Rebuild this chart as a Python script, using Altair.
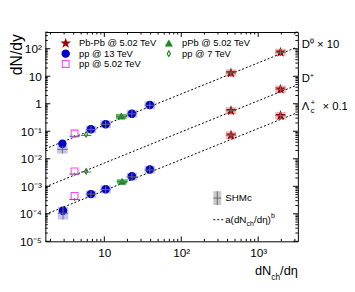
import altair as alt
import pandas as pd

W, H = 257, 213
FONT = "Liberation Sans"

# ---------------- data ----------------
systems = ["Pb-Pb @ 5.02 TeV", "pp @ 13 TeV", "pp @ 5.02 TeV", "pPb @ 5.02 TeV", "pp @ 7 TeV"]

# D0 (x10)
d0_pbpb_x = [443, 1950]; d0_pbpb_y = [13.1, 74.0]
d0_pbpb_shm = [13.1, 74.0]; d0_pbpb_lo = [9.6, 54.0]; d0_pbpb_hi = [17.9, 101.0]
d0_pp13_x = [2.85, 6.7, 10.4, 22.8, 39.0]; d0_pp13_y = [0.035, 0.118, 0.18, 0.43, 0.90]
d0_pp13_shm = [0.022, 0.115, 0.18, 0.43, 0.88]
d0_pp13_lo = [0.0155, 0.085, 0.13, 0.31, 0.64]; d0_pp13_hi = [0.029, 0.16, 0.25, 0.60, 1.22]
d0_pp5_x = [4.1]; d0_pp5_y = [0.083]; d0_pp5_shm = [0.066]; d0_pp5_lo = [0.060]; d0_pp5_hi = [0.073]
d0_ppb_x = [16.6]; d0_ppb_y = [0.35]; d0_ppb_shm = [0.34]; d0_ppb_lo = [0.28]; d0_ppb_hi = [0.43]
d0_pp7_x = [5.8]; d0_pp7_y = [0.076]; d0_pp7_shm = [0.070]; d0_pp7_lo = [0.064]; d0_pp7_hi = [0.077]

# D+
dp_pbpb_x = [443, 1950]; dp_pbpb_y = [0.56, 3.35]
dp_pbpb_shm = [0.56, 3.35]; dp_pbpb_lo = [0.41, 2.45]; dp_pbpb_hi = [0.76, 4.6]
dp_pp5_x = [4.1]; dp_pp5_y = [0.0035]; dp_pp5_shm = [0.0028]; dp_pp5_lo = [0.0025]; dp_pp5_hi = [0.0031]
dp_pp7_x = [5.8]; dp_pp7_y = [0.0035]; dp_pp7_shm = [0.0033]; dp_pp7_lo = [0.0030]; dp_pp7_hi = [0.0037]

# Lambda_c (x0.1)
lc_pbpb_x = [443, 1950]; lc_pbpb_y = [0.072, 0.37]
lc_pbpb_shm = [0.072, 0.37]; lc_pbpb_lo = [0.053, 0.27]; lc_pbpb_hi = [0.098, 0.50]
lc_pp13_x = [2.9, 6.7, 10.4, 22.8, 39.0]; lc_pp13_y = [1.3e-4, 5.2e-4, 7.8e-4, 2.3e-3, 4.1e-3]
lc_pp13_shm = [1.05e-4, 5.2e-4, 7.6e-4, 2.2e-3, 3.9e-3]
lc_pp13_lo = [6.2e-5, 3.8e-4, 5.5e-4, 1.6e-3, 2.9e-3]; lc_pp13_hi = [1.8e-4, 7.0e-4, 1.08e-3, 3.1e-3, 5.6e-3]
lc_pp5_x = [4.1]; lc_pp5_y = [4.5e-4]; lc_pp5_shm = [3.3e-4]; lc_pp5_lo = [2.9e-4]; lc_pp5_hi = [3.7e-4]
lc_ppb_x = [17.0]; lc_ppb_y = [1.5e-3]; lc_ppb_shm = [1.5e-3]; lc_ppb_lo = [1.25e-3]; lc_ppb_hi = [1.8e-3]

# power-law fit lines a(dNch/deta)^b : end points
fit_x = [1.71, 3150]
d0_fit_y = [0.023, 112.0]
dp_fit_y = [9.5e-4, 4.7]
lc_fit_y = [9.5e-5, 0.46]

# axis ticks
x_major = [10, 100, 1000]
x_major_labels = ["10", "10²", "10³"]
y_major = [1e-5, 1e-4, 1e-3, 1e-2, 1e-1, 1, 10, 100]
y_major_labels = ["10⁻⁵", "10⁻⁴", "10⁻³", "10⁻²", "10⁻¹", "1", "10", "10²"]
y_exps = [-5, -4, -3, -2, -1, 0, 1, 2]

# ---------------- build tables ----------------
rows = []
def add(sp, sysname, xs, ys, shm, lo, hi):
    for a, b, c, d, e in zip(xs, ys, shm, lo, hi):
        rows.append(dict(species=sp, system=sysname, x=a, y=b, shm=c, lo=d, hi=e))

add("D0", systems[0], d0_pbpb_x, d0_pbpb_y, d0_pbpb_shm, d0_pbpb_lo, d0_pbpb_hi)
add("D0", systems[1], d0_pp13_x, d0_pp13_y, d0_pp13_shm, d0_pp13_lo, d0_pp13_hi)
add("D0", systems[2], d0_pp5_x, d0_pp5_y, d0_pp5_shm, d0_pp5_lo, d0_pp5_hi)
add("D0", systems[3], d0_ppb_x, d0_ppb_y, d0_ppb_shm, d0_ppb_lo, d0_ppb_hi)
add("D0", systems[4], d0_pp7_x, d0_pp7_y, d0_pp7_shm, d0_pp7_lo, d0_pp7_hi)
add("Dp", systems[0], dp_pbpb_x, dp_pbpb_y, dp_pbpb_shm, dp_pbpb_lo, dp_pbpb_hi)
add("Dp", systems[2], dp_pp5_x, dp_pp5_y, dp_pp5_shm, dp_pp5_lo, dp_pp5_hi)
add("Dp", systems[4], dp_pp7_x, dp_pp7_y, dp_pp7_shm, dp_pp7_lo, dp_pp7_hi)
add("Lc", systems[0], lc_pbpb_x, lc_pbpb_y, lc_pbpb_shm, lc_pbpb_lo, lc_pbpb_hi)
add("Lc", systems[1], lc_pp13_x, lc_pp13_y, lc_pp13_shm, lc_pp13_lo, lc_pp13_hi)
add("Lc", systems[2], lc_pp5_x, lc_pp5_y, lc_pp5_shm, lc_pp5_lo, lc_pp5_hi)
add("Lc", systems[3], lc_ppb_x, lc_ppb_y, lc_ppb_shm, lc_ppb_lo, lc_ppb_hi)
df = pd.DataFrame(rows)
BOXF = 1.17
df["xlo"] = df["x"] / BOXF
df["xhi"] = df["x"] * BOXF
df["boxsys"] = df["system"]

fit = pd.DataFrame(
    [dict(species="D0", x=a, y=b) for a, b in zip(fit_x, d0_fit_y)]
    + [dict(species="Dp", x=a, y=b) for a, b in zip(fit_x, dp_fit_y)]
    + [dict(species="Lc", x=a, y=b) for a, b in zip(fit_x, lc_fit_y)]
)

x_minor = [m * 10 ** k for k in range(0, 4) for m in range(2, 10) if 1.71 < m * 10 ** k < 3280]
y_minor = [m * 10.0 ** k for k in range(-5, 3) for m in range(2, 10) if m * 10.0 ** k < 405]

# ---------------- scales / styles ----------------
STAR = "M0,-1L0.235,-0.324L0.951,-0.309L0.38,0.124L0.588,0.809L0,0.4L-0.588,0.809L-0.38,0.124L-0.951,-0.309L-0.235,-0.324Z"
DIAM = "M0,-1L0.6,0L0,1L-0.6,0Z"
shape_sc = alt.Scale(domain=systems, range=[STAR, "circle", "square", "triangle-up", DIAM])
stroke_sc = alt.Scale(domain=systems, range=["#a00000", "#0000cc", "#ff44ff", "#1a8a1a", "#1a8a1a"])
fill_sc = alt.Scale(domain=systems, range=["#a00000", "#0000cc", "transparent", "#1a8a1a", "transparent"])
size_sc = alt.Scale(domain=systems, range=[64, 32, 36, 42, 40])
box_sc = alt.Scale(domain=systems, range=["#f4b4b4", "#c4c4ee", "#ffffff", "#50c050", "#ffffff"])

xscale = alt.Scale(type="log", domain=[1.71, 3280], nice=False)
yscale = alt.Scale(type="log", domain=[1e-5, 405], nice=False)

x_expr = " : ".join(f"datum.value == {v} ? '{l}'" for v, l in zip(x_major, x_major_labels)) + " : ''"
y_expr = " : ".join(f"round(log(datum.value)/LN10) == {e} ? '{l}'" for e, l in zip(y_exps, y_major_labels)) + " : ''"

xaxis = alt.Axis(values=x_major, labelExpr=x_expr, ticks=False, tickSize=0, domain=False, grid=False,
                 title=None, labelFontSize=12, labelFont=FONT, labelColor="black", labelPadding=6)
yaxis = alt.Axis(values=y_major, labelExpr=y_expr, ticks=False, tickSize=0, domain=False, grid=False,
                 title=None, labelFontSize=12, labelFont=FONT, labelColor="black", labelPadding=4)

X = lambda f: alt.X(f, type="quantitative", scale=xscale, axis=xaxis)
Y = lambda f: alt.Y(f, type="quantitative", scale=yscale, axis=yaxis)

base = alt.Chart(df)
boxes = base.transform_filter(
    alt.FieldOneOfPredicate(field="system", oneOf=[systems[0], systems[1], systems[3]])
).mark_rect().encode(
    x=X("xlo"), x2="xhi", y=Y("lo"), y2="hi",
    color=alt.Color("boxsys:N", scale=box_sc, legend=None),
)
shm_v = base.mark_rule(color="#6a6a6a", strokeWidth=1).encode(x=X("x"), y=Y("lo"), y2="hi")
shm_h = base.mark_rule(color="#6a6a6a", strokeWidth=1).encode(x=X("xlo"), x2="xhi", y=Y("shm"))
lines = alt.Chart(fit).mark_line(color="black", strokeWidth=1, strokeDash=[2, 2]).encode(
    x=X("x"), y=Y("y"), detail="species:N")

def marker_enc():
    return dict(
        shape=alt.Shape("system:N", scale=shape_sc, legend=None),
        fill=alt.Fill("system:N", scale=fill_sc, legend=None),
        stroke=alt.Stroke("system:N", scale=stroke_sc, legend=None),
        size=alt.Size("system:N", scale=size_sc, legend=None),
    )

pts = base.mark_point(opacity=1, fillOpacity=1, strokeWidth=1.1).encode(x=X("x"), y=Y("y"), **marker_enc())

# ticks (inside, all four sides)
xt = pd.DataFrame({"v": x_major + x_minor, "len": [5] * len(x_major) + [2.5] * len(x_minor)})
yt = pd.DataFrame({"v": y_major + y_minor, "len": [5] * len(y_major) + [2.5] * len(y_minor)})
tick_layers = []
for L in [5, 2.5]:
    xs_ = alt.Chart(xt).transform_filter(alt.datum.len == L)
    ys_ = alt.Chart(yt).transform_filter(alt.datum.len == L)
    tick_layers += [
        xs_.mark_rule(color="black").encode(x=X("v"), y=alt.value(H), y2=alt.value(H - L)),
        xs_.mark_rule(color="black").encode(x=X("v"), y=alt.value(0), y2=alt.value(L)),
        ys_.mark_rule(color="black").encode(y=Y("v"), x=alt.value(0), x2=alt.value(L)),
        ys_.mark_rule(color="black").encode(y=Y("v"), x=alt.value(W), x2=alt.value(W - L)),
    ]

one = pd.DataFrame({"k": [0]})
def txt(s, x, y, size=11, align="left", baseline="middle", angle=0):
    kw = dict(font=FONT, fontSize=size, align=align, baseline=baseline, color="black", text=s)
    if angle:
        kw["angle"] = angle
    return alt.Chart(one).mark_text(**kw).encode(x=alt.value(x), y=alt.value(y))

# legend (top-left)
leg_pos = {systems[0]: (20.7, 11.5), systems[1]: (20.7, 22), systems[2]: (20.7, 32.5),
           systems[3]: (125.7, 11.5), systems[4]: (125.7, 22)}
leg_layers = []
for s, (lx, ly) in leg_pos.items():
    leg_layers.append(
        alt.Chart(pd.DataFrame({"system": [s]})).mark_point(opacity=1, fillOpacity=1, strokeWidth=1.1).encode(
            x=alt.value(lx), y=alt.value(ly), **marker_enc()))
    leg_layers.append(txt(s, lx + 13.5, ly, size=9.5))

# SHMc / fit legend (bottom-right)
shm_leg = [
    alt.Chart(one).mark_rect(color="#c8c8c8").encode(x=alt.value(171), x2=alt.value(179), y=alt.value(162), y2=alt.value(176)),
    alt.Chart(one).mark_rule(color="#6a6a6a").encode(x=alt.value(175), y=alt.value(162), y2=alt.value(176)),
    alt.Chart(one).mark_rule(color="#6a6a6a").encode(x=alt.value(171), x2=alt.value(179), y=alt.value(169)),
    txt("SHMc", 183, 169, size=10),
    alt.Chart(one).mark_rule(color="black", strokeDash=[2, 2]).encode(x=alt.value(171), x2=alt.value(181), y=alt.value(191)),
    txt("a(dN", 183, 191, size=10),
    txt("ch", 204.8, 195, size=7),
    txt("/dη)", 212.3, 191, size=10),
    txt("b", 229.6, 187, size=7),
]

# species labels (right)
spec_labels = [
    txt("D⁰ × 10", 261, 13.3, size=11.5),
    txt("D⁺", 261, 47.7, size=11.5),
    txt("Λ", 261, 76, size=11.5),
    txt("+", 270, 72, size=7.5),
    txt("c", 270, 80.5, size=7.5),
    txt("× 0.1", 282, 76, size=11.5),
]

# axis titles
titles = [
    txt("dN/dy", -29, 23, size=16, align="center", angle=270),
    txt("/dη", 257, 247, size=13, align="right", baseline="alphabetic"),
    txt("ch", 238.9, 252, size=8.5, align="right", baseline="alphabetic"),
    txt("dN", 229.9, 247, size=13, align="right", baseline="alphabetic"),
]

chart = alt.layer(
    boxes, lines, pts, shm_v, shm_h, *tick_layers, *leg_layers, *shm_leg, *spec_labels, *titles
).properties(
    width=W, height=H, autosize="none",
    padding={"left": 38, "top": 22, "right": 50, "bottom": 41},
    background="white",
).configure_view(stroke="black", strokeWidth=1)

chart.save("out.html", embed_options={"renderer": "svg", "actions": False})
